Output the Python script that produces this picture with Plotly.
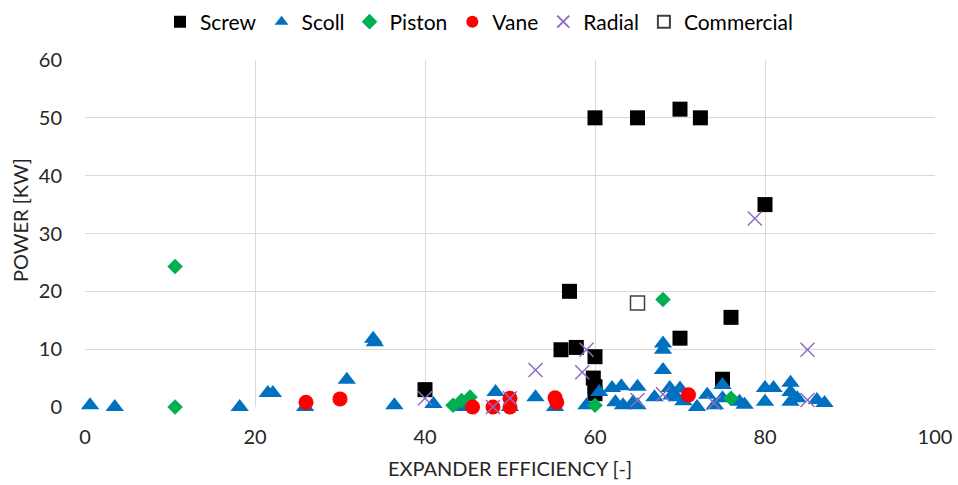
import plotly.graph_objects as go

# ---- data ----
screw_x = [40, 56, 57.8, 57, 60, 59.8, 60, 60, 60, 65, 70, 72.4, 80, 76, 70, 75]
screw_y = [3, 9.9, 10.3, 20, 8.7, 5, 3.5, 2.3, 50, 50, 51.5, 50, 35, 15.5, 11.9, 4.8]

scoll_x = [0.6, 3.5, 18.2, 21.5, 22.1, 25.9, 30.8, 33.9, 34.1, 36.4, 41, 44.5, 48.3, 50,
           53, 55.3, 59, 60.5, 62, 63.1, 65, 62.4, 63.3, 64.5, 65, 67, 68, 68, 68, 68.8,
           69.6, 70.4, 72, 73.2, 74.1, 75, 75, 77, 77.6, 80, 81, 80, 83, 83, 83, 83.8,
           86.1, 87, 70, 69]
scoll_y = [0.3, 0, 0, 2.4, 2.4, 0, 4.7, 11.8, 11.2, 0.3, 0.5, 0, 2.6, 0,
           1.7, 0, 0.3, 2.6, 3.3, 3.6, 3.5, 0.8, 0.3, 0.8, 0.3, 1.7, 11, 9.9, 6.4, 3.3,
           1.7, 1.0, 0, 2.1, 0.3, 3.8, 1.5, 0.9, 0.4, 3.3, 3.3, 0.9, 4.2, 2.6, 0.9, 1.5,
           1.2, 0.7, 3.2, 2.0]

piston_x = [10.6, 10.6, 43.3, 44.3, 45.3, 60, 68, 76]
piston_y = [24.3, 0, 0.3, 1.1, 1.7, 0.3, 18.6, 1.5]

vane_x = [26, 30, 45.6, 48, 50, 50, 55.3, 55.5, 71]
vane_y = [0.8, 1.4, 0, 0, 1.5, 0, 1.6, 0.8, 2.1]

radial_x = [40, 48, 50, 53, 59, 58.5, 65, 68, 74, 85, 85, 78.8]
radial_y = [1.5, 0, 1.5, 6.4, 9.9, 6, 1.2, 2.2, 0.7, 9.9, 1.2, 32.6]

commercial_x = [65]
commercial_y = [18]

x_ticks = [0, 20, 40, 60, 80, 100]
y_ticks = [0, 10, 20, 30, 40, 50, 60]

FONT = "Lato"
TXT = "#262626"

fig = go.Figure()
fig.add_trace(go.Scatter(x=screw_x, y=screw_y, mode="markers", name="Screw",
                         marker=dict(symbol="square", size=15, color="#000000"), cliponaxis=False))
fig.add_trace(go.Scatter(x=scoll_x, y=scoll_y, mode="markers", name="Scoll",
                         marker=dict(symbol="triangle-up", size=16, color="#0070C0"), cliponaxis=False))
fig.add_trace(go.Scatter(x=piston_x, y=piston_y, mode="markers", name="Piston",
                         marker=dict(symbol="diamond", size=12, color="#00B050"), cliponaxis=False))
fig.add_trace(go.Scatter(x=vane_x, y=vane_y, mode="markers", name="Vane",
                         marker=dict(symbol="circle", size=15, color="#FF0000"), cliponaxis=False))
fig.add_trace(go.Scatter(x=radial_x, y=radial_y, mode="markers", name="Radial",
                         marker=dict(symbol="x-thin", size=14, color="#8E6CC0",
                                     line=dict(color="#8E6CC0", width=1.5)), cliponaxis=False))
fig.add_trace(go.Scatter(x=commercial_x, y=commercial_y, mode="markers", name="Commercial",
                         marker=dict(symbol="square", size=14, color="#FFFFFF",
                                     line=dict(color="#404040", width=1.5)), cliponaxis=False))

fig.update_layout(
    width=958, height=485,
    margin=dict(l=85, r=23, t=60, b=78),
    plot_bgcolor="white", paper_bgcolor="white",
    font=dict(family=FONT, size=20, color=TXT),
    legend=dict(orientation="h", x=0.5, xref="container", xanchor="center",
                y=1 - 22 / 485, yref="container", yanchor="middle",
                font=dict(family=FONT, size=21, color="#000000"),
                itemsizing="constant", traceorder="normal", itemwidth=30),
    xaxis=dict(range=[0, 100], tickvals=x_ticks, showgrid=True, gridcolor="#D9D9D9", gridwidth=1.3,
               zeroline=False, showline=False, ticks="", automargin=False, ticklabelstandoff=16,
               tickfont=dict(size=20, color=TXT)),
    yaxis=dict(range=[0, 60], tickvals=y_ticks, showgrid=True, gridcolor="#D9D9D9", gridwidth=1.3,
               zeroline=False, showline=False, ticks="", automargin=False, ticklabelstandoff=22,
               tickfont=dict(size=20, color=TXT)),
    annotations=[
        dict(text="EXPANDER EFFICIENCY [-]", xref="paper", yref="paper", x=0.5, y=-61 / 347,
             xanchor="center", yanchor="middle", showarrow=False, font=dict(size=20, color=TXT)),
        dict(text="POWER [KW]", xref="paper", yref="paper", x=-65 / 850, y=187 / 347,
             xanchor="center", yanchor="middle", textangle=-90, showarrow=False,
             font=dict(size=20, color=TXT)),
    ],
)

fig.write_html("out.html")
